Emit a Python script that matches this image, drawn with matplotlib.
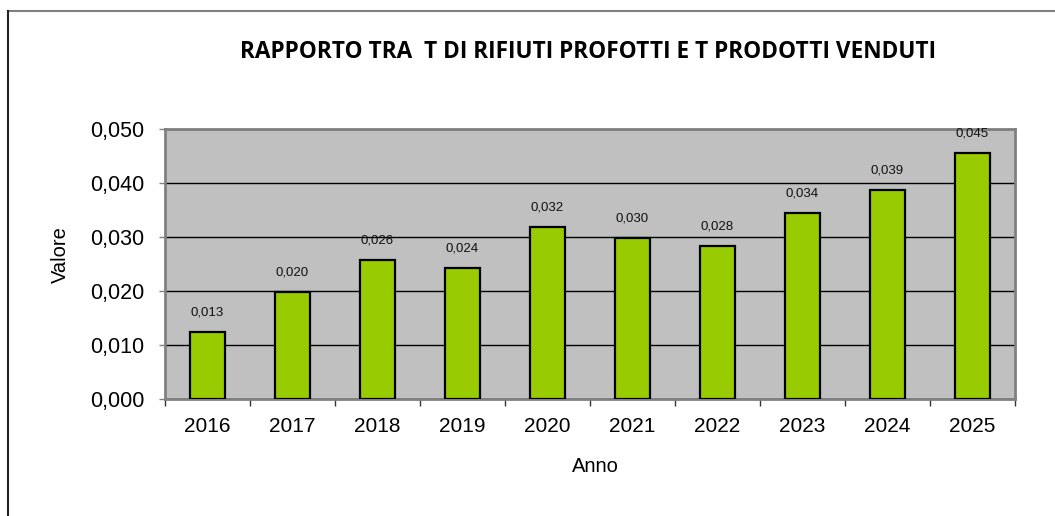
import matplotlib.pyplot as plt
from matplotlib.ticker import FuncFormatter, MultipleLocator, FixedLocator
from matplotlib.lines import Line2D

years = ["2016", "2017", "2018", "2019", "2020", "2021", "2022", "2023", "2024", "2025"]
values = [0.0125, 0.0198, 0.0258, 0.0243, 0.0318, 0.0298, 0.0284, 0.0345, 0.0387, 0.0455]
labels = ["0,013", "0,020", "0,026", "0,024", "0,032", "0,030", "0,028", "0,034", "0,039", "0,045"]

plt.rcParams['font.family'] = ['Liberation Sans', 'DejaVu Sans']

fig = plt.figure(figsize=(10.55, 5.16), dpi=100)
ax = fig.add_axes([165 / 1055, 1 - 399.3 / 516, 850 / 1055, 270.3 / 516])
ax.set_facecolor("#C0C0C0")

x = list(range(len(years)))
bars = ax.bar(x, values, width=0.41, color="#99CC00", edgecolor="black", linewidth=1.6, zorder=3)

for xi, v, lab in zip(x, values, labels):
    ax.annotate(lab, (xi, v), xytext=(0, 14), textcoords="offset points",
                ha="center", va="center", fontsize=9.5, color="#111111")

ax.set_xlim(-0.5, len(years) - 0.5)
ax.set_ylim(0, 0.05)
ax.yaxis.set_major_locator(MultipleLocator(0.01))
ax.yaxis.set_major_formatter(FuncFormatter(lambda v, p: f"{v:.3f}".replace(".", ",")))
ax.grid(axis="y", color="black", linewidth=1.0, zorder=1)
ax.set_axisbelow(True)

ax.set_xticks(x)
ax.set_xticklabels(years)
ax.xaxis.set_minor_locator(FixedLocator([i - 0.5 for i in range(len(years) + 1)]))
ax.tick_params(axis="x", which="major", length=0, pad=12.5, labelsize=15)
ax.tick_params(axis="x", which="minor", length=5, width=1, color="#333333", direction="out")
ax.tick_params(axis="y", length=4, width=1, color="#808080", direction="out", pad=11, labelsize=15.5)

for side in ["left", "bottom", "top", "right"]:
    ax.spines[side].set_color("#808080")
    ax.spines[side].set_linewidth(2)

# axis titles
fig.text(60 / 1055, 1 - 255 / 516, "Valore", ha="center", va="center", rotation=90, fontsize=14.5)
fig.text(595 / 1055, 1 - 467 / 516, "Anno", ha="center", va="center", fontsize=14.5)

fig.text(588 / 1055, 1 - 52 / 516, "RAPPORTO TRA  T DI RIFIUTI PROFOTTI E T PRODOTTI VENDUTI",
         ha="center", va="center", fontsize=16.3, fontweight="bold",
         family=['Open Sans', 'DejaVu Sans'])

# frame lines of the chart area
fig.add_artist(Line2D([8 / 1055, 1], [1 - 11 / 516, 1 - 11 / 516], color="#808080", linewidth=1.5))
fig.add_artist(Line2D([8 / 1055, 8 / 1055], [0, 1 - 11 / 516], color="#222222", linewidth=1.5))

fig.savefig("out.png", dpi=100)
